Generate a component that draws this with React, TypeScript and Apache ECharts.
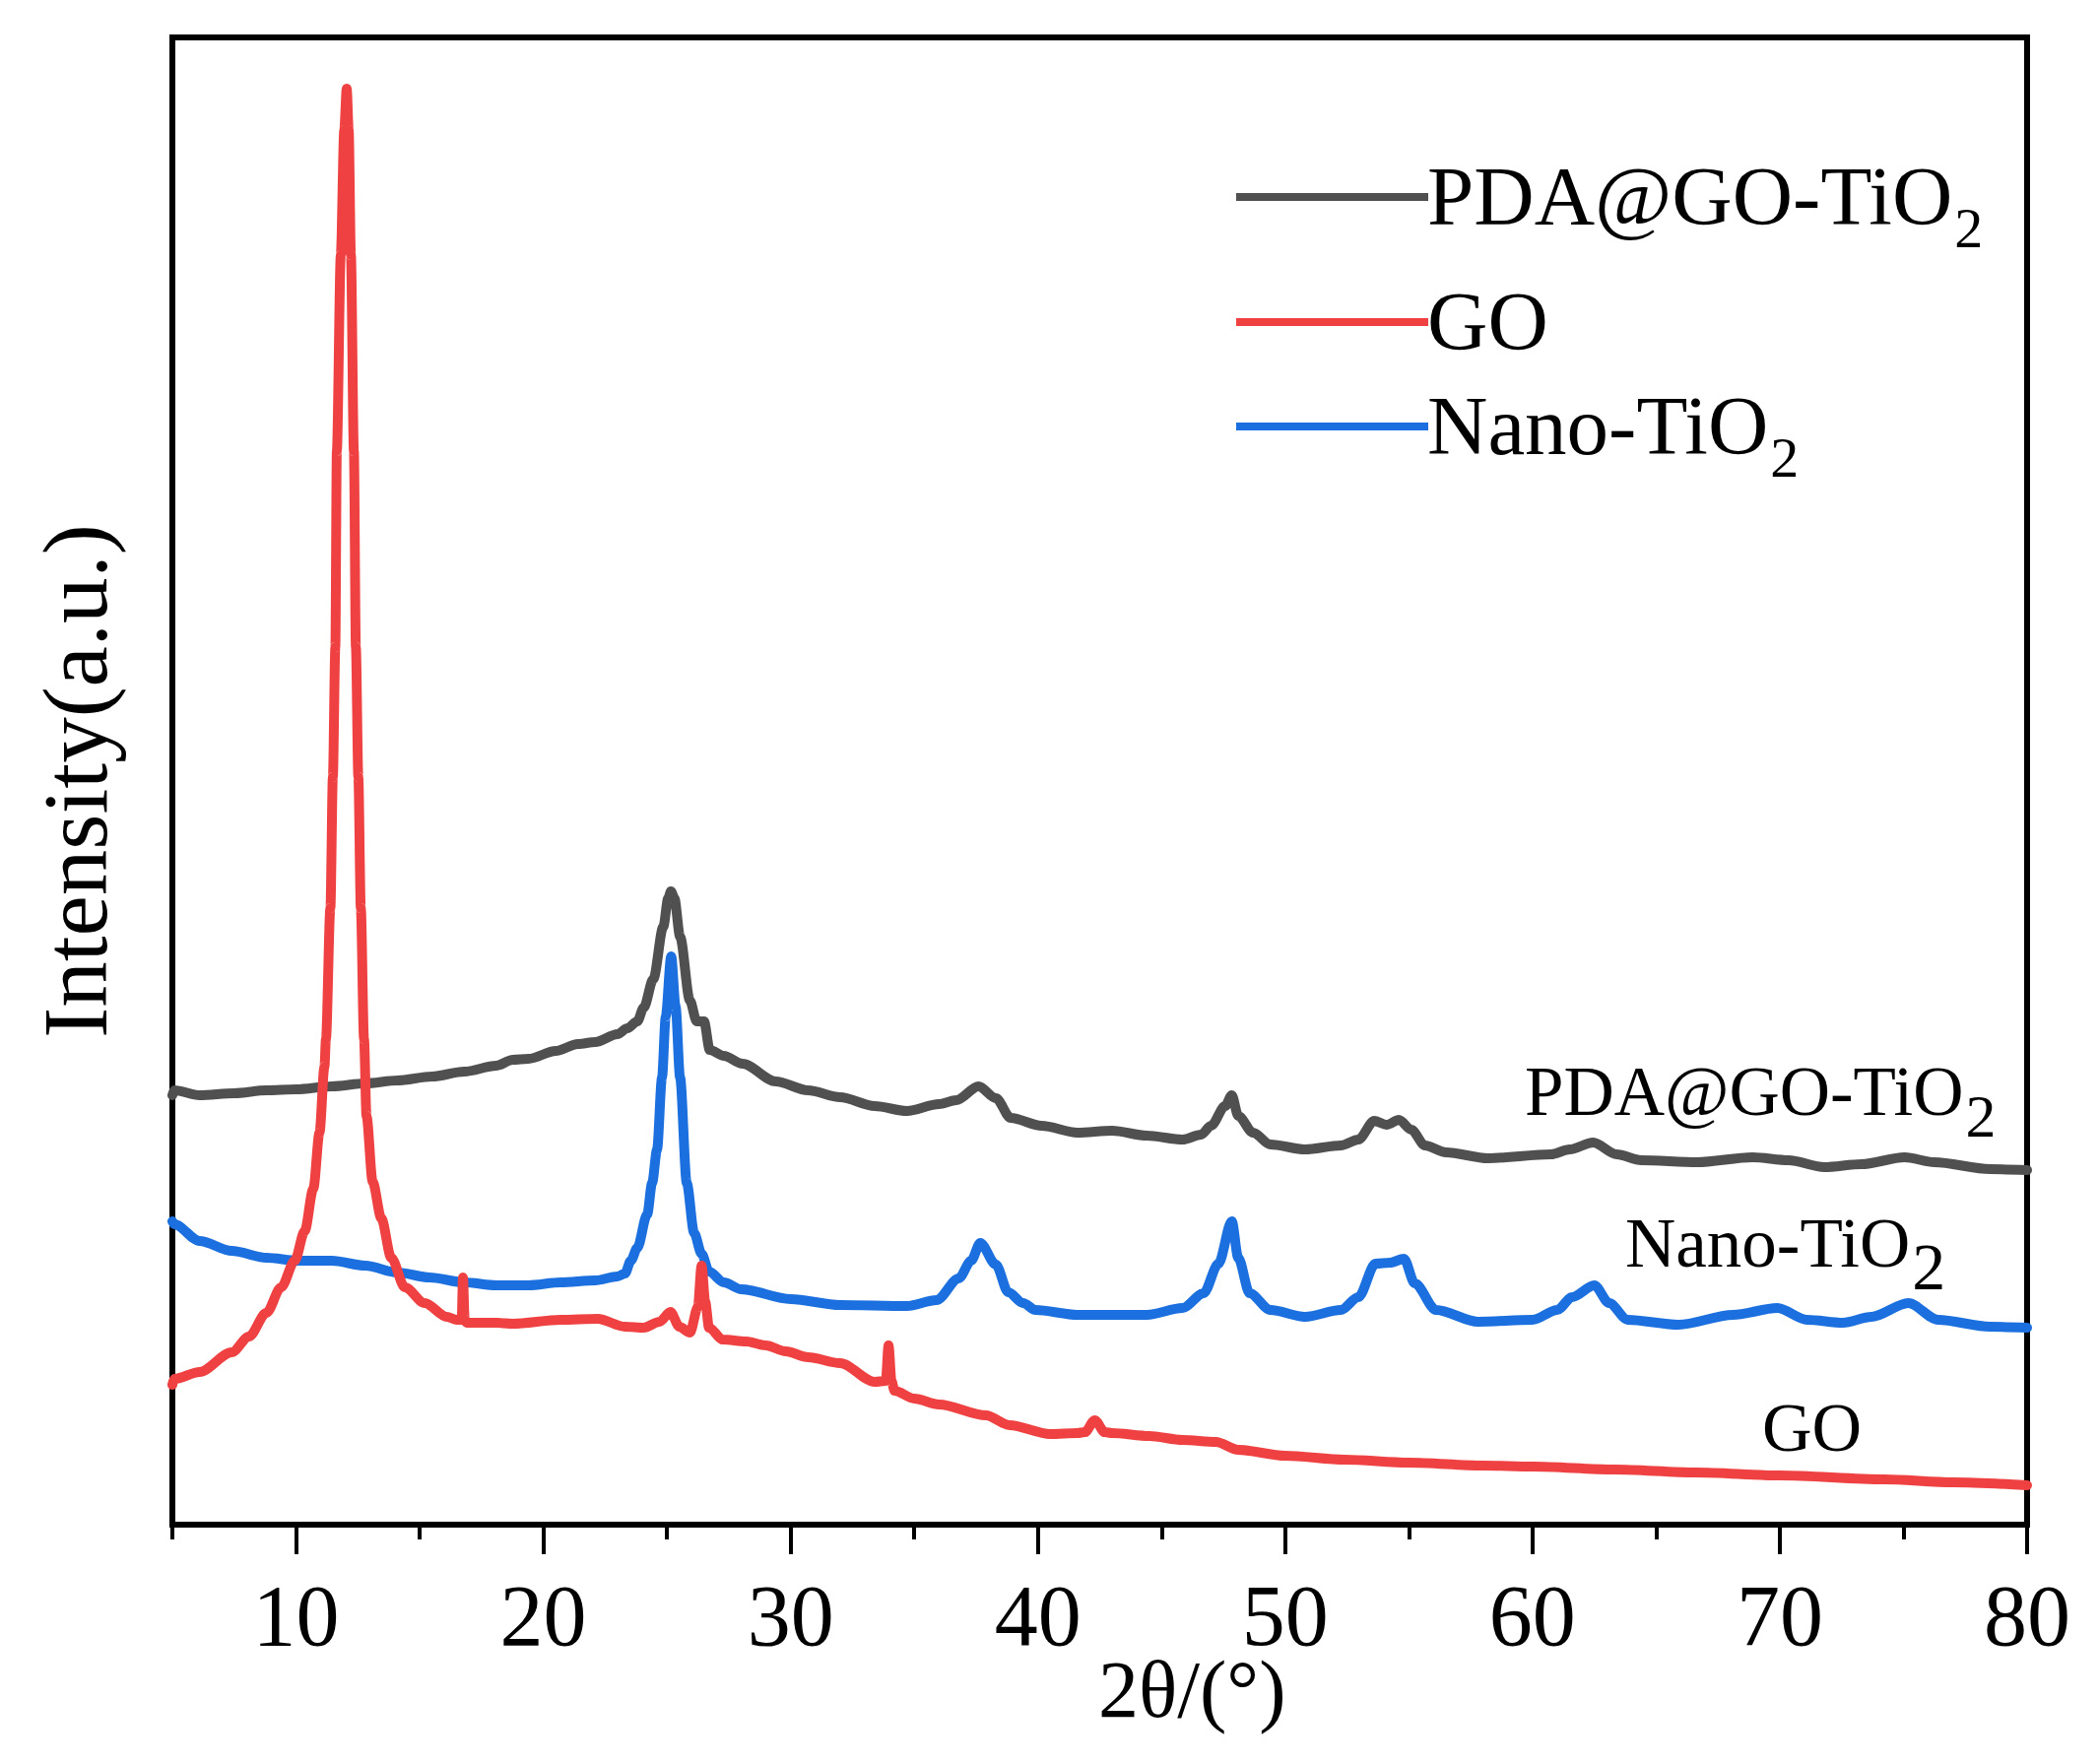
import React, { useEffect, useRef } from "react";
import * as echarts from "echarts";

const FONT = '"Liberation Serif", "Times New Roman", serif';

const seriesNames = ["PDA@GO-TiO2", "GO", "Nano-TiO2"];
const seriesColors = ["#505050", "#EF4141", "#1B6FDE"];
const xTickValues = [10, 20, 30, 40, 50, 60, 70, 80];

// 2θ (deg), intensity (a.u., offset traces)
const pdaData: [number, number][] = [
  [5.0, 440], [5.08, 445], [6.1, 440], [7.5, 442], [8.8, 445], [10.0, 446], [11.45, 449],
  [12.8, 452], [14.1, 455], [15.5, 459], [16.8, 464], [18.1, 470], [18.76, 476], [19.4, 477],
  [20.5, 485], [21.4, 492], [22.1, 494], [23.0, 502], [23.4, 508], [23.8, 515], [24.06, 529],
  [24.45, 558], [24.85, 611], [25.05, 640], [25.16, 647], [25.3, 640], [25.53, 601], [25.93, 536],
  [26.2, 515], [26.5, 515], [26.73, 486], [27.3, 480], [28.05, 472], [29.4, 454], [30.7, 445],
  [32.0, 438], [33.4, 429], [34.7, 424], [36.0, 431], [36.7, 435], [37.6, 449], [38.3, 437],
  [38.9, 417], [40.15, 409], [41.6, 402], [43.0, 404], [44.4, 399], [45.85, 395], [46.6, 400],
  [47.0, 409], [47.57, 429], [47.84, 440], [48.1, 419], [48.7, 402], [49.4, 390], [50.8, 385],
  [52.25, 389], [52.96, 395], [53.6, 414], [54.1, 410], [54.6, 415], [55.1, 405], [55.65, 389],
  [56.5, 382], [58.2, 376], [60.75, 380], [61.5, 385], [62.45, 392], [63.4, 380], [64.4, 374],
  [66.65, 372], [68.9, 377], [70.35, 374], [71.8, 367], [73.3, 370], [75.05, 377], [76.25, 372],
  [78.5, 365], [80.0, 364],
];

const goData: [number, number][] = [
  [5.0, 146], [5.08, 152], [6.1, 159], [7.4, 179], [8.1, 195], [8.8, 219], [9.4, 245],
  [9.95, 272], [10.35, 302], [10.7, 345], [10.95, 402], [11.15, 469], [11.21, 497], [11.39, 630],
  [11.49, 763], [11.59, 895], [11.65, 1094], [11.81, 1293], [11.95, 1420], [12.05, 1462],
  [12.13, 1420], [12.22, 1293], [12.34, 1094], [12.42, 895], [12.52, 763], [12.62, 630],
  [12.75, 497], [12.85, 419], [13.1, 352], [13.45, 315], [13.85, 275], [14.4, 245], [15.2, 229],
  [16.1, 215], [16.5, 212], [16.7, 212], [16.75, 255], [16.82, 212], [16.9, 209], [18.1, 209],
  [18.76, 208], [20.7, 212], [22.2, 213], [23.3, 205], [24.06, 204], [24.7, 210], [25.14, 220],
  [25.5, 205], [25.93, 199], [26.25, 225], [26.4, 267], [26.55, 230], [26.7, 204], [27.25, 192],
  [28.2, 190], [29.0, 186], [29.8, 180], [30.7, 174], [32.0, 168], [33.4, 149], [33.85, 150],
  [33.96, 186], [34.08, 150], [34.2, 140], [35.0, 132], [36.0, 126], [37.9, 115], [38.85, 105],
  [40.5, 96], [41.6, 97], [41.9, 98], [42.3, 110], [42.7, 98], [43.0, 97], [44.5, 94],
  [45.85, 90], [47.2, 88], [48.1, 80], [50.0, 74], [52.4, 70], [55.0, 67], [58.0, 64],
  [60.0, 63], [63.3, 60], [66.6, 57], [70.0, 54], [74.2, 50], [77.0, 47], [80.0, 44],
];

const nanoData: [number, number][] = [
  [5.0, 312], [5.08, 309], [6.1, 292], [7.4, 282], [8.8, 275], [10.1, 272], [11.45, 272],
  [12.8, 267], [14.1, 260], [15.4, 255], [16.8, 250], [18.1, 247], [19.4, 247], [20.7, 250],
  [22.1, 252], [23.0, 256], [23.3, 259], [23.54, 272], [23.8, 285], [24.2, 319], [24.4, 351],
  [24.6, 385], [24.8, 458], [24.95, 520], [25.17, 581], [25.35, 530], [25.53, 458], [25.8, 351],
  [26.1, 300], [26.4, 279], [26.7, 261], [27.3, 250], [28.0, 243], [30.0, 233], [32.0, 227],
  [34.7, 226], [35.9, 232], [36.8, 254], [37.3, 272], [37.67, 290], [38.3, 268], [38.8, 240],
  [39.4, 229], [39.9, 222], [41.6, 217], [44.4, 217], [45.85, 224], [46.7, 239], [47.3, 269],
  [47.84, 312], [48.1, 275], [48.56, 239], [49.4, 222], [50.8, 215], [52.25, 222], [52.96, 235],
  [53.65, 269], [54.24, 270], [54.8, 274], [55.24, 249], [56.1, 222], [57.8, 210], [60.0, 212],
  [61.0, 222], [61.6, 235], [62.5, 247], [63.1, 229], [63.85, 212], [65.9, 207], [68.1, 217],
  [69.9, 224], [71.1, 212], [72.55, 209], [73.7, 215], [75.2, 229], [76.4, 212], [78.5, 205],
  [80.0, 204],
];

function measure(text: string, size: number): number {
  const c = document.createElement("canvas").getContext("2d");
  if (!c) return text.length * size * 0.5;
  c.font = `${size}px ${FONT}`;
  return c.measureText(text).width;
}

// text with subscript "2" drawn as two pieces; baseline given
function chemText(main: string, sub: string, x: number, baseline: number, size: number, subSize: number, subDrop: number) {
  const els: any[] = [
    {
      type: "text",
      x,
      y: baseline - 0.3375 * size,
      style: { text: main, fill: "#000", font: `${size}px ${FONT}`, textAlign: "left", textVerticalAlign: "middle" },
      z: 100,
    },
  ];
  if (sub) {
    const w = measure(main, size);
    els.push({
      type: "text",
      x: x + w + 2,
      y: baseline + subDrop - 0.3375 * subSize,
      style: { text: sub, fill: "#000", font: `${subSize}px ${FONT}`, textAlign: "left", textVerticalAlign: "middle" },
      z: 100,
    });
  }
  return els;
}

export default function App() {
  const ref = useRef<HTMLDivElement>(null);

  useEffect(() => {
    if (!ref.current) return;
    const chart = echarts.init(ref.current, null, { renderer: "svg" });

    const legendRows = [200, 327, 433];
    const legendMain = ["PDA@GO-TiO", "GO", "Nano-TiO"];
    const legendSub = ["2", "", "2"];
    const graphic: any[] = [];
    legendRows.forEach((y, i) => {
      graphic.push({
        type: "line",
        shape: { x1: 1255, y1: y, x2: 1450, y2: y },
        style: { stroke: seriesColors[i], lineWidth: 8 },
        z: 100,
      });
      graphic.push(...chemText(legendMain[i], legendSub[i], 1449, y + 28, 85, 58, 23));
    });
    // in-plot annotations
    graphic.push(...chemText("PDA@GO-TiO", "2", 1548, 1132, 71, 62, 22));
    graphic.push(...chemText("Nano-TiO", "2", 1650, 1286, 71, 68, 23));
    graphic.push(...chemText("GO", "", 1789, 1473, 70, 0, 0));
    // axis titles
    graphic.push({
      type: "text",
      x: 1115,
      y: 1743 - 0.3375 * 82,
      style: { text: "2θ/(°)", fill: "#000", font: `82px ${FONT}`, textAlign: "left", textVerticalAlign: "middle" },
    });
    graphic.push({
      type: "text",
      x: 108 - 0.3375 * 93,
      y: 793,
      rotation: Math.PI / 2,
      style: { text: "Intensity(a.u.)", fill: "#000", font: `93px ${FONT}`, textAlign: "center", textVerticalAlign: "middle" },
    });

    const lineSeries = (name: string, data: [number, number][], color: string, z: number) => ({
      name,
      type: "line",
      xAxisIndex: 0,
      data,
      color,
      showSymbol: false,
      smooth: 0.3,
      smoothMonotone: "x",
      lineStyle: { width: 10, color, join: "round", cap: "round" },
      z,
    });

    chart.setOption({
      animation: false,
      backgroundColor: "#fff",
      grid: {
        left: 175,
        right: 2131 - 2058,
        top: 38,
        bottom: 1791 - 1548,
        show: true,
        borderColor: "#000",
        borderWidth: 6,
        backgroundColor: "transparent",
      },
      xAxis: [
        {
          type: "value",
          min: 5,
          max: 80,
          interval: 5,
          position: "bottom",
          axisLine: { show: true, onZero: false, lineStyle: { color: "#000", width: 6 } },
          axisTick: { show: true, inside: false, length: 15, lineStyle: { color: "#000", width: 4 } },
          axisLabel: { show: false },
          splitLine: { show: false },
        },
        {
          type: "value",
          min: 5,
          max: 80,
          position: "bottom",
          axisLine: { show: false, onZero: false },
          axisTick: { show: true, inside: false, length: 30, customValues: xTickValues, lineStyle: { color: "#000", width: 4 } },
          axisLabel: {
            show: true,
            customValues: xTickValues,
            margin: 48,
            color: "#000",
            fontFamily: FONT,
            fontSize: 88,
          },
          splitLine: { show: false },
        },
      ],
      yAxis: {
        type: "value",
        min: 4,
        max: 1514,
        axisLine: { show: false },
        axisTick: { show: false },
        axisLabel: { show: false },
        splitLine: { show: false },
      },
      series: [
        lineSeries(seriesNames[0], pdaData, seriesColors[0], 2),
        lineSeries(seriesNames[2], nanoData, seriesColors[2], 3),
        lineSeries(seriesNames[1], goData, seriesColors[1], 4),
      ],
      graphic,
    });

    return () => chart.dispose();
  }, []);

  return (
    <div
      ref={ref}
      style={{ position: "absolute", left: 0, top: 0, width: 2131, height: 1791, background: "#fff" }}
    />
  );
}
